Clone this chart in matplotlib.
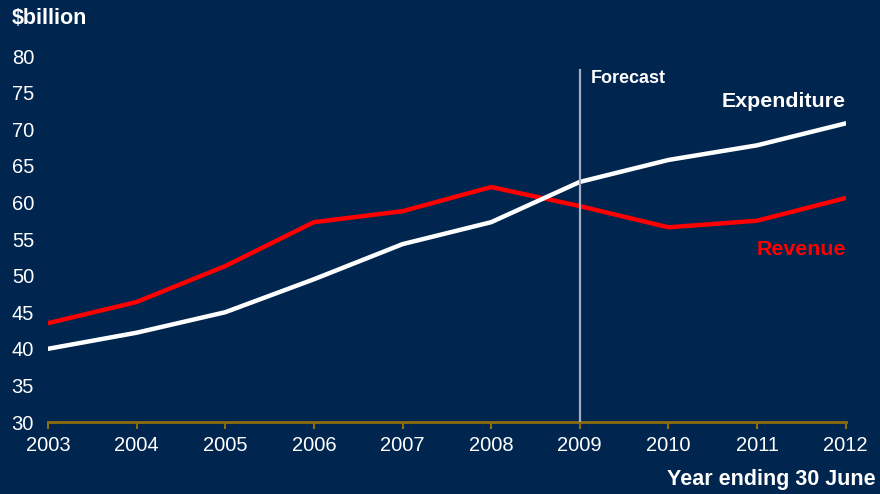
import matplotlib.pyplot as plt

years = [2003, 2004, 2005, 2006, 2007, 2008, 2009, 2010, 2011, 2012]
revenue = [43.5, 46.4, 51.3, 57.3, 58.8, 62.1, 59.5, 56.6, 57.5, 60.6]
expenditure = [40.0, 42.2, 45.0, 49.5, 54.3, 57.3, 62.8, 65.8, 67.8, 70.8]
y_ticks = [30, 35, 40, 45, 50, 55, 60, 65, 70, 75, 80]
forecast_year = 2009
forecast_top = 78.1

NAVY = '#00254f'
GOLD = '#8c6d0c'
RED = '#ff0000'
WHITE = '#ffffff'

plt.rcParams['font.family'] = ['Liberation Sans', 'DejaVu Sans']

fig = plt.figure(figsize=(8.8, 4.94), dpi=100, facecolor=NAVY)
ax = fig.add_axes([0.0545, 0.1457, 0.9065, 0.7409], facecolor=NAVY)

ax.plot(years, revenue, color=RED, linewidth=3.2, solid_capstyle='round', zorder=3)
ax.plot(years, expenditure, color=WHITE, linewidth=3.2, solid_capstyle='round', zorder=4)

# forecast divider
ax.plot([forecast_year, forecast_year], [30, forecast_top], color='#a3adbf',
        linewidth=1.6, zorder=5)
ax.text(forecast_year + 0.12, forecast_top - 1.2, 'Forecast', color=WHITE,
        fontsize=13, fontweight='bold', va='center', ha='left')

ax.text(2012, 73.8, 'Expenditure', color=WHITE, fontsize=15.4, fontweight='bold',
        ha='right', va='center')
ax.text(2012, 53.6, 'Revenue', color=RED, fontsize=15.4, fontweight='bold',
        ha='right', va='center')

ax.set_xlim(2003, 2012)
ax.set_ylim(30, 80)
ax.set_xticks(years)
ax.set_yticks(y_ticks)

for side in ['top', 'right', 'left']:
    ax.spines[side].set_visible(False)
ax.spines['bottom'].set_color(GOLD)
ax.spines['bottom'].set_linewidth(2)
ax.spines['bottom'].set_zorder(2)

ax.tick_params(axis='x', colors=GOLD, direction='out', length=5, width=1.5,
               labelcolor=WHITE, labelsize=14.5, pad=5)
ax.tick_params(axis='y', length=0, labelcolor=WHITE, labelsize=14.5, pad=10)

fig.text(12 / 880, 1 - 18 / 494, '$billion', color=WHITE, fontsize=15.5,
         fontweight='bold', ha='left', va='center')
fig.text(876 / 880, 1 - 479 / 494, 'Year ending 30 June', color=WHITE,
         fontsize=15.5, fontweight='bold', ha='right', va='center')

fig.savefig('out.png', dpi=100, facecolor=NAVY)
